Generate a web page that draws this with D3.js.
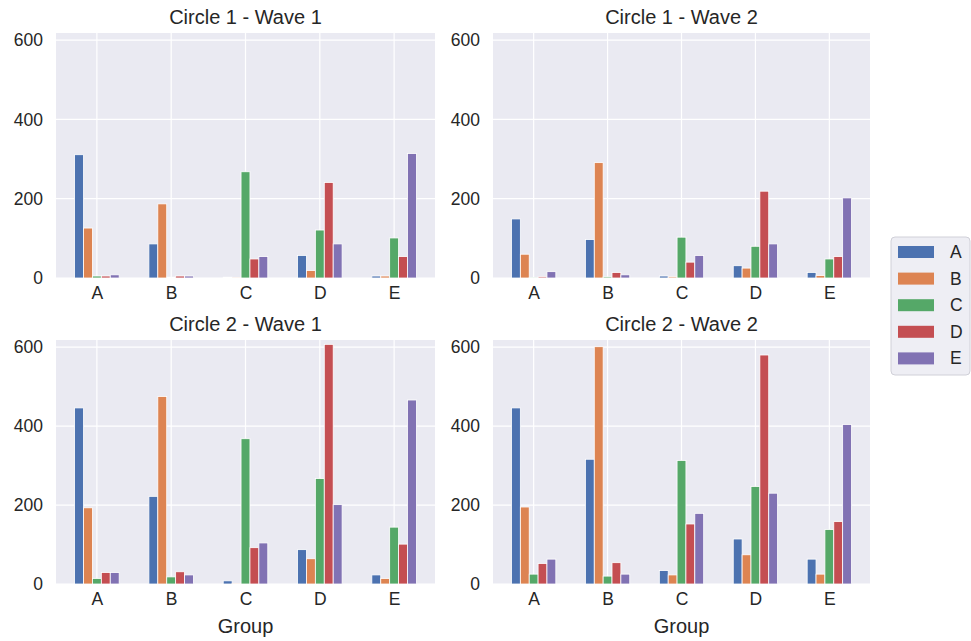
<!DOCTYPE html>
<html>
<head>
<meta charset="utf-8">
<script src="https://cdn.jsdelivr.net/npm/d3@7"></script>
<style>
  body { margin: 0; background: #fff; }
  text { font-family: "Liberation Sans", Arial, sans-serif; fill: #262626; }
</style>
</head>
<body>
<svg id="chart" width="971" height="641"></svg>
<script>
// groups on the x axis, and the hue series (one bar per series in every group)
const groups = ["A", "B", "C", "D", "E"];
const series = ["A", "B", "C", "D", "E"];
const colors = ["#4C72B0", "#DD8452", "#55A868", "#C44E52", "#8172B3"];
const yTicks = [0, 200, 400, 600];
const titles = ["Circle 1 - Wave 1", "Circle 1 - Wave 2", "Circle 2 - Wave 1", "Circle 2 - Wave 2"];

// one row per series, values across groups A..E
const c1w1 = [
  [311, 86, 2, 57, 5],
  [126, 187, 1, 19, 5],
  [5, 2, 268, 121, 101],
  [5, 5, 48, 241, 54],
  [8, 5, 54, 86, 314]
];
const c1w2 = [
  [149, 97, 5, 31, 14],
  [60, 291, 3, 25, 6],
  [1, 3, 103, 80, 48],
  [3, 14, 40, 219, 54],
  [16, 8, 57, 86, 202]
];
const c2w1 = [
  [446, 222, 8, 87, 23],
  [193, 475, 1, 64, 14],
  [14, 18, 368, 267, 144],
  [29, 31, 92, 607, 101],
  [29, 23, 104, 201, 466]
];
const c2w2 = [
  [446, 316, 34, 114, 63],
  [195, 601, 23, 74, 25],
  [25, 20, 313, 247, 138],
  [52, 54, 152, 580, 158],
  [63, 25, 179, 230, 404]
];

const panelData = [c1w1, c1w2, c2w1, c2w2];

// plot areas (left, right, top, bottom)
const boxes = [
  {l: 56, r: 435, t: 33, b: 278},
  {l: 493, r: 870, t: 33, b: 278},
  {l: 56, r: 435, t: 340, b: 584},
  {l: 493, r: 870, t: 340, b: 584}
];

const svg = d3.select("#chart");

panelData.forEach(function(data, i) {
  const box = boxes[i];
  const g = svg.append("g");

  const x = d3.scalePoint().domain(groups).range([box.l, box.r]).padding(0.55);
  const step = x.step();
  const xs = d3.scaleBand().domain(series).range([-0.3 * step, 0.3 * step]);
  const y = d3.scaleLinear().domain([0, 618]).range([box.b, box.t]);

  // background
  g.append("rect")
    .attr("x", box.l).attr("y", box.t)
    .attr("width", box.r - box.l).attr("height", box.b - box.t)
    .attr("fill", "#EAEAF2");

  // grid
  g.append("g").selectAll("line.h")
    .data(yTicks)
    .enter().append("line")
    .attr("x1", box.l).attr("x2", box.r)
    .attr("y1", function(d) { return y(d); })
    .attr("y2", function(d) { return y(d); })
    .attr("stroke", "#fff").attr("stroke-width", 1.2);

  g.append("g").selectAll("line.v")
    .data(groups)
    .enter().append("line")
    .attr("x1", function(d) { return x(d); })
    .attr("x2", function(d) { return x(d); })
    .attr("y1", box.t).attr("y2", box.b)
    .attr("stroke", "#fff").attr("stroke-width", 1.2);

  // bars
  data.forEach(function(vals, s) {
    g.append("g").selectAll("rect")
      .data(vals)
      .enter().append("rect")
      .attr("x", function(d, j) { return x(groups[j]) + xs(series[s]); })
      .attr("width", xs.bandwidth())
      .attr("y", function(d) { return y(d); })
      .attr("height", function(d) { return y(0) - y(d); })
      .attr("fill", colors[s])
      .attr("stroke", "#fff")
      .attr("stroke-width", 0.8);
  });

  // axes (no tick marks, no domain line)
  const yAxis = g.append("g")
    .attr("transform", "translate(" + box.l + ",0)")
    .call(d3.axisLeft(y).tickValues(yTicks).tickSize(0).tickPadding(13));
  yAxis.select(".domain").remove();
  yAxis.selectAll("text").style("font-size", "17.5px").attr("fill", "#262626")
    .style("font-family", "'Liberation Sans', Arial, sans-serif");

  const xAxis = g.append("g")
    .attr("transform", "translate(0," + box.b + ")")
    .call(d3.axisBottom(x).tickSize(0).tickPadding(9));
  xAxis.select(".domain").remove();
  xAxis.selectAll("text").style("font-size", "17.5px").attr("fill", "#262626")
    .style("font-family", "'Liberation Sans', Arial, sans-serif");

  // title
  g.append("text")
    .attr("x", (box.l + box.r) / 2)
    .attr("y", box.t - 9)
    .attr("text-anchor", "middle")
    .style("font-size", "20px")
    .text(titles[i]);

  // x label on the bottom row
  if (i >= 2) {
    g.append("text")
      .attr("x", (box.l + box.r) / 2)
      .attr("y", box.b + 49)
      .attr("text-anchor", "middle")
      .style("font-size", "20px")
      .text("Group");
  }
});

// legend
const legend = svg.append("g").attr("transform", "translate(891,237)");
legend.append("rect")
  .attr("x", 0).attr("y", 0)
  .attr("width", 79).attr("height", 138)
  .attr("rx", 4)
  .attr("fill", "#EEEEF4")
  .attr("stroke", "#D0D0D8");

series.forEach(function(s, k) {
  legend.append("rect")
    .attr("x", 7).attr("y", 9 + k * 26.6)
    .attr("width", 36).attr("height", 12)
    .attr("fill", colors[k]);
  legend.append("text")
    .attr("x", 59).attr("y", 21 + k * 26.6)
    .style("font-size", "17.5px")
    .text(s);
});
</script>
</body>
</html>
